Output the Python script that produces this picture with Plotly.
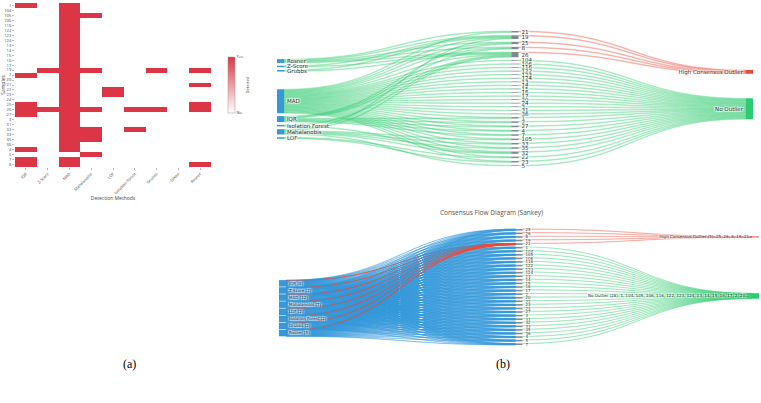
import plotly.graph_objects as go

# ---------------- data ----------------
methods = ["IQR", "Z-Score", "MAD", "Mahalanobis", "LOF",
           "Isolation Forest", "Grubbs", "Dixon", "Rosner"]
samples = ["1", "104", "105", "106", "116", "122", "123", "124", "13", "14",
           "15", "16", "17", "19", "2", "20", "21", "22", "23", "24", "25",
           "26", "27", "3", "31", "32", "33", "35", "36", "4", "5", "7", "8"]

det_iqr = ["1", "2", "25", "26", "27", "4", "7", "8"]
det_z = ["19", "26"]
det_mad = [s for s in samples if s != "5"]
det_maha = ["105", "19", "26", "32", "33", "35", "5"]
det_lof = ["22", "23"]
det_iso = ["26", "32"]
det_grubbs = ["19", "26"]
det_dixon = []
det_rosner = ["19", "21", "25", "26", "8"]

detections = [det_iqr, det_z, det_mad, det_maha, det_lof,
              det_iso, det_grubbs, det_dixon, det_rosner]

high_consensus = ["25", "26", "8", "19", "21"]
highlight_sample = "21"

# ---------------- colours ----------------
RED = "#dc3545"
BLUE = "#3498db"
GRAY = "#7f8c8d"
HC_RED = "#e74c3c"
NO_GREEN = "#2ecc71"
LINK_GREEN = "rgba(46,204,113,0.25)"
LINK_RED = "rgba(231,76,60,0.25)"
LINK_BLUE = "rgba(52,152,219,0.35)"
LINK_RED_STRONG = "rgba(231,76,60,0.7)"

W, H = 761, 403
def px_x(v): return v / W
def px_y(v): return 1 - v / H

fig = go.Figure()

# ---------------- heatmap (a) ----------------
z = [[1 if s in detections[j] else 0 for j in range(len(methods))] for s in samples]
fig.add_trace(go.Heatmap(
    z=z, x=methods, y=samples,
    colorscale=[[0, "white"], [1, RED]], zmin=0, zmax=1,
    colorbar=dict(
        x=px_x(218), xanchor="left", y=px_y(85), yanchor="middle",
        len=76 / H, lenmode="fraction", thickness=7, thicknessmode="pixels",
        tickvals=[0, 1], ticktext=["No", "Yes"], ticks="",
        tickfont=dict(size=4, color="#444"),
        outlinewidth=0.5, outlinecolor="#999",
        title=dict(text="Detected", side="right", font=dict(size=4, color="#444")),
    ),
    xaxis="x", yaxis="y",
))

# order in the sankeys: high-consensus samples first
sankey_samples = high_consensus + [s for s in samples if s not in high_consensus]

# ---------------- sankey top ----------------
active = [(m, d) for m, d in zip(methods, detections) if len(d) > 0]
labels_top = [m for m, _ in active] + sankey_samples + ["High Consensus Outlier", "No Outlier"]
idx = {l: i for i, l in enumerate(labels_top)}
src, tgt, val, col = [], [], [], []
for m, d in active:
    for s in d:
        src.append(idx[m]); tgt.append(idx[s]); val.append(1); col.append(LINK_GREEN)
for s in sankey_samples:
    src.append(idx[s])
    if s in high_consensus:
        tgt.append(idx["High Consensus Outlier"]); col.append(LINK_RED)
    else:
        tgt.append(idx["No Outlier"]); col.append(LINK_GREEN)
    val.append(1)
node_colors_top = [BLUE] * len(active) + [GRAY] * len(sankey_samples) + [HC_RED, NO_GREEN]

fig.add_trace(go.Sankey(
    domain=dict(x=[px_x(277), px_x(753)], y=[px_y(166), px_y(31)]),
    node=dict(label=labels_top, color=node_colors_top, pad=3, thickness=7,
              line=dict(width=0)),
    link=dict(source=src, target=tgt, value=val, color=col),
    textfont=dict(size=5.5, color="#333", family="DejaVu Sans"),
))

# ---------------- sankey bottom ----------------
no_outlier = [s for s in samples if s not in high_consensus]
hc_label = f"High Consensus Outlier ({len(high_consensus)}): " + ", ".join(high_consensus)
no_label = f"No Outlier ({len(no_outlier)}): " + ", ".join(no_outlier[:15]) + "..."
labels_bot = [f"{m} ({len(d)})" for m, d in active] + sankey_samples + [hc_label, no_label]
nm = len(active)
ns = len(sankey_samples)
src2, tgt2, val2, col2 = [], [], [], []
for i in range(nm):
    for k, s in enumerate(sankey_samples):
        src2.append(i); tgt2.append(nm + k); val2.append(1)
        col2.append(LINK_RED_STRONG if s == highlight_sample else LINK_BLUE)
for k, s in enumerate(sankey_samples):
    src2.append(nm + k)
    if s in high_consensus:
        tgt2.append(nm + ns); col2.append(LINK_RED)
    else:
        tgt2.append(nm + ns + 1); col2.append(LINK_GREEN)
    val2.append(1)
node_colors_bot = [BLUE] * nm + [GRAY] * ns + [HC_RED, NO_GREEN]

# layout of the bottom sankey nodes (computed, like d3-sankey's scale)
B_X0, B_X1, B_Y0, B_Y1 = 279, 759, 229, 345
Wd, Hd = B_X1 - B_X0, B_Y1 - B_Y0
PAD_B, THICK_B = 2, 7
ky = (Hd - (ns - 1) * PAD_B) / (ns * nm)      # middle column is the binding one
h_mid = nm * ky
h_left = ns * ky
mid_c = [(k * (h_mid + PAD_B) + h_mid / 2) / Hd for k in range(ns)]
hc_c = sum(mid_c[k] for k, s in enumerate(sankey_samples) if s in high_consensus) / len(high_consensus)
no_c = sum(mid_c[k] for k, s in enumerate(sankey_samples) if s not in high_consensus) / len(no_outlier)
gap_left = 0.6
block = nm * h_left + (nm - 1) * gap_left
block_bottom = 0.925 * Hd
left_c = [(block_bottom - block + i * (h_left + gap_left) + h_left / 2) / Hd for i in range(nm)]
xl = (THICK_B / 2) / Wd
node_x = [xl] * nm + [0.5] * ns + [1 - xl, 1 - xl]
node_y = left_c + mid_c + [hc_c, no_c]

fig.add_trace(go.Sankey(
    domain=dict(x=[px_x(B_X0), px_x(B_X1)], y=[px_y(B_Y1), px_y(B_Y0)]),
    arrangement="fixed",
    node=dict(label=labels_bot, color=node_colors_bot, pad=PAD_B, thickness=THICK_B,
              line=dict(width=0), x=node_x, y=node_y),
    link=dict(source=src2, target=tgt2, value=val2, color=col2),
    textfont=dict(size=4, color="#333", family="DejaVu Sans"),
))

fig.update_layout(
    width=W, height=H, margin=dict(l=0, r=0, t=0, b=0),
    paper_bgcolor="white", plot_bgcolor="white",
    font=dict(family="Open Sans", color="#444"),
    xaxis=dict(domain=[px_x(15), px_x(211)], anchor="y",
               tickangle=-45, tickfont=dict(size=4), ticks="outside",
               ticklen=2, tickcolor="#bbb", showgrid=False, zeroline=False,
               title=dict(text="Detection Methods", font=dict(size=5), standoff=2)),
    yaxis=dict(domain=[px_y(167), px_y(3)], anchor="x", autorange="reversed",
               tickfont=dict(size=4), ticks="outside", ticklen=2, tickcolor="#bbb",
               showgrid=False, zeroline=False, type="category",
               tickmode="array", tickvals=samples, ticktext=samples,
               title=dict(text="Samples", font=dict(size=5), standoff=2)),
    annotations=[
        dict(text="Consensus Flow Diagram (Sankey)", x=px_x(545), y=px_y(212),
             xref="paper", yref="paper", showarrow=False,
             font=dict(size=6.5, color="#555")),
        dict(text="(a)", x=px_x(121), y=px_y(373), xref="paper", yref="paper",
             showarrow=False, font=dict(size=12, color="black", family="Liberation Serif")),
        dict(text="(b)", x=px_x(512), y=px_y(373), xref="paper", yref="paper",
             showarrow=False, font=dict(size=12, color="black", family="Liberation Serif")),
    ],
)

fig.write_html("out.html")
